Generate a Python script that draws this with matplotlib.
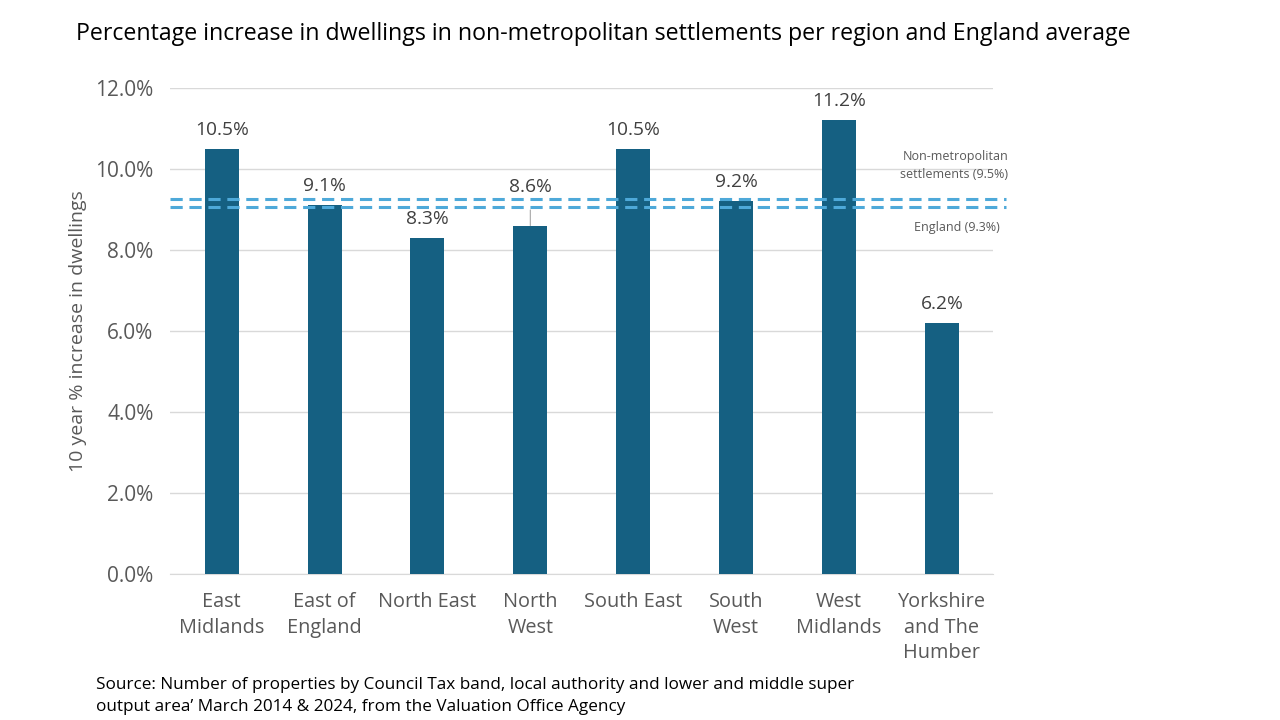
import matplotlib.pyplot as plt
import matplotlib.ticker as mticker

regions = ['East\nMidlands', 'East of\nEngland', 'North East', 'North\nWest',
           'South East', 'South\nWest', 'West\nMidlands', 'Yorkshire\nand The\nHumber']
pct_increase = [10.5, 9.1, 8.3, 8.6, 10.5, 9.2, 11.2, 6.2]

# reference lines as drawn on the chart
ref_values = [9.25, 9.05]
ref_labels = ['Non-metropolitan\nsettlements (9.5%)', 'England (9.3%)']

plt.rcParams['font.family'] = ['Open Sans', 'DejaVu Sans']

bar_col = '#156082'
ref_col = '#4EA9D9'
txt_col = '#595959'

fig = plt.figure(figsize=(12.8, 7.2), dpi=100)
ax = fig.add_axes([0.133, 0.203, 0.643, 0.675])

x = list(range(len(regions)))
ax.bar(x, pct_increase, width=0.33, color=bar_col, zorder=3)

for i, v in enumerate(pct_increase):
    if i == 3:
        # label nudged up with a leader line
        ax.annotate('{:.1f}%'.format(v), xy=(i, v), xytext=(i, v + 0.95),
                    ha='center', va='center', fontsize=13.8, color='#404040',
                    arrowprops=dict(arrowstyle='-', color='#A6A6A6', lw=0.8,
                                    shrinkA=8, shrinkB=0), zorder=5)
    else:
        ax.text(i, v + 0.47, '{:.1f}%'.format(v), ha='center', va='center',
                fontsize=13.8, color='#404040', zorder=5)

for rv in ref_values:
    ax.plot([-0.5, 7.62], [rv, rv], color=ref_col, lw=2.2, ls=(0, (4, 2.2)),
            clip_on=False, zorder=4)

ax.text(1.018, 10.08, ref_labels[0], transform=ax.get_yaxis_transform(),
        ha='right', va='center', fontsize=9, color=txt_col, linespacing=1.5)
ax.text(1.008, 8.55, ref_labels[1], transform=ax.get_yaxis_transform(),
        ha='right', va='center', fontsize=9, color=txt_col)

ax.set_xlim(-0.5, 7.5)
ax.set_ylim(0, 12)
ax.yaxis.set_major_locator(mticker.MultipleLocator(2))
ax.yaxis.set_major_formatter(mticker.FuncFormatter(lambda v, p: '{:.1f}%'.format(v)))
ax.grid(axis='y', color='#D9D9D9', lw=1, zorder=0)
for s in ['top', 'right', 'left']:
    ax.spines[s].set_visible(False)
ax.spines['bottom'].set_color('#D9D9D9')
ax.tick_params(axis='y', length=0, labelsize=15, colors=txt_col, pad=12)
ax.tick_params(axis='x', length=0, labelsize=14.3, colors=txt_col, pad=13)
ax.set_xticks(x)
ax.set_xticklabels(regions, linespacing=1.38)
ax.set_ylabel('10 year % increase in dwellings', fontsize=14, color=txt_col, labelpad=6)

fig.text(0.059, 0.97, 'Percentage increase in dwellings in non-metropolitan settlements per region and England average',
         fontsize=16.7, color='black', va='top')
fig.text(0.075, 0.007, 'Source: Number of properties by Council Tax band, local authority and lower and middle super\n'
         'output area\u2019 March 2014 & 2024, from the Valuation Office Agency',
         fontsize=12.3, color='black', va='bottom', linespacing=1.5)

fig.savefig('out.png', dpi=100)
